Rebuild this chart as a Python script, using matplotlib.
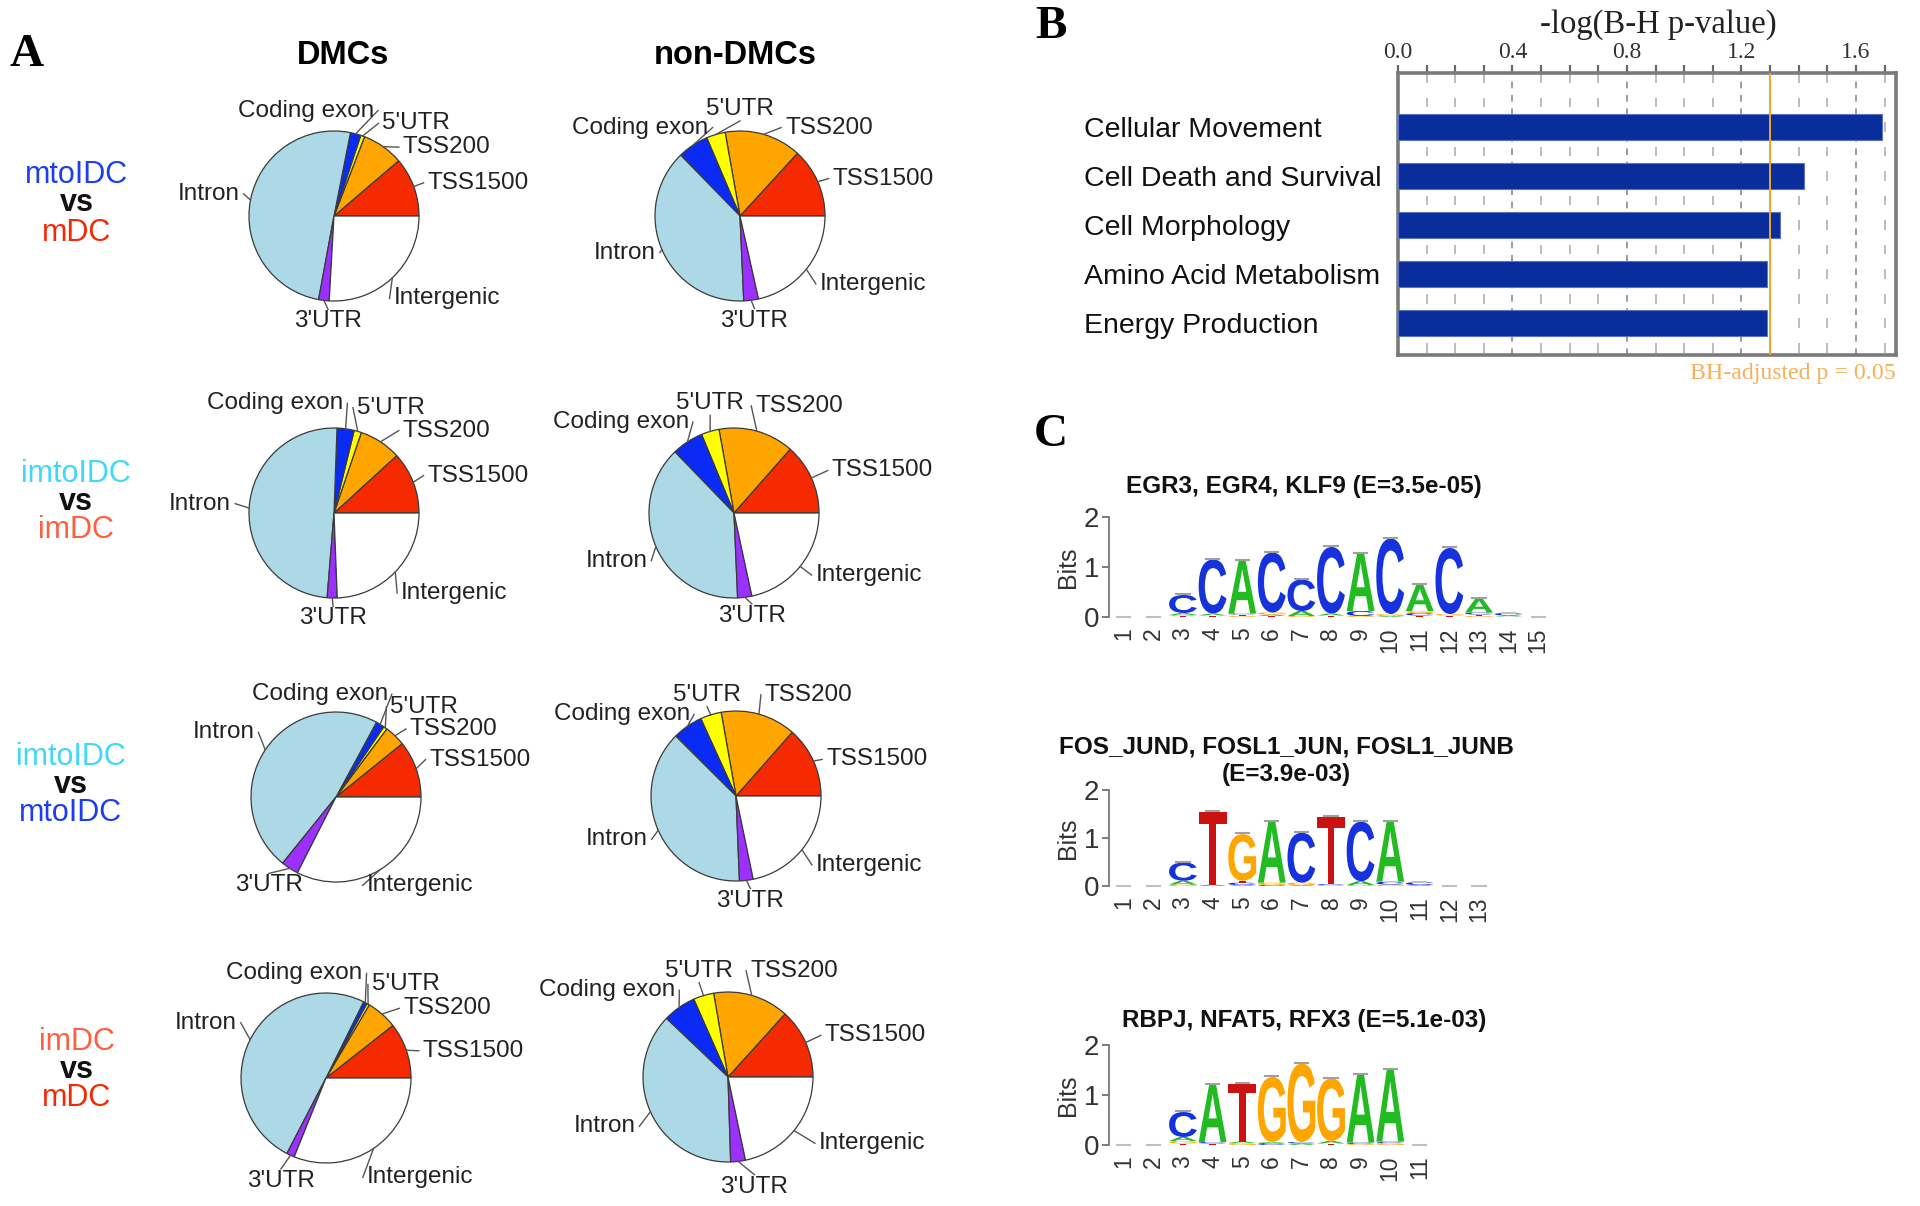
import numpy as np
import matplotlib
matplotlib.use("Agg")
import matplotlib.pyplot as plt
from matplotlib.font_manager import FontProperties
from matplotlib.textpath import TextPath
from matplotlib.patches import PathPatch
from matplotlib.transforms import Affine2D

# ---------------- data ----------------
segments = ["TSS1500", "TSS200", "5'UTR", "Coding exon", "Intron", "3'UTR", "Intergenic"]
seg_colors = ["#f52a00", "#ffa500", "#ffff00", "#0a2af5", "#add8e6", "#9b30ff", "#ffffff"]

row_first = ["mtoIDC", "imtoIDC", "imtoIDC", "imDC"]
row_second = ["mDC", "imDC", "mtoIDC", "mDC"]
row_first_colors = ["#1c3df0", "#40d8f8", "#40d8f8", "#ff5f3f"]
row_second_colors = ["#f52800", "#ff5f3f", "#1c3df0", "#f52800"]

# percent of CpGs per genomic feature (segment order above)
dmc_fractions = [
    [11.25, 7.9, 0.75, 2.0, 50.2, 2.0, 25.9],
    [11.8, 8.0, 1.4, 3.25, 49.3, 1.9, 24.4],
    [10.8, 4.0, 0.7, 1.6, 47.1, 3.3, 32.5],
    [10.6, 5.9, 0.5, 0.7, 49.7, 1.5, 31.1],
]
nondmc_fractions = [
    [13.2, 14.6, 3.6, 5.9, 38.4, 2.8, 21.5],
    [13.5, 14.3, 3.4, 6.0, 38.4, 2.7, 21.6],
    [13.5, 14.3, 4.0, 5.75, 38.1, 2.6, 21.75],
    [13.3, 14.4, 3.9, 6.3, 37.6, 2.8, 21.7],
]

categories = ["Cellular Movement", "Cell Death and Survival", "Cell Morphology",
              "Amino Acid Metabolism", "Energy Production"]
neg_log_p = [1.69, 1.42, 1.335, 1.29, 1.29]
threshold = -np.log10(0.05)

# each title is a list of lines
motif_titles = [["EGR3, EGR4, KLF9 (E=3.5e-05)"],
                ["FOS_JUND, FOSL1_JUN, FOSL1_JUNB", "(E=3.9e-03)"],
                ["RBPJ, NFAT5, RFX3 (E=5.1e-03)"]]
# per position: (letter, bits) stacked bottom to top
motif1 = [
    [], [],
    [("T", 0.02), ("G", 0.02), ("A", 0.04), ("C", 0.36)],
    [("T", 0.03), ("A", 0.04), ("C", 1.08)],
    [("G", 0.02), ("T", 0.03), ("C", 0.02), ("A", 1.05)],
    [("T", 0.02), ("A", 0.03), ("G", 0.04), ("C", 1.2)],
    [("G", 0.02), ("A", 0.1), ("C", 0.63)],
    [("T", 0.03), ("A", 0.04), ("C", 1.33)],
    [("G", 0.02), ("C", 0.1), ("A", 1.15)],
    [("A", 0.02), ("G", 0.04), ("C", 1.51)],
    [("T", 0.03), ("C", 0.05), ("G", 0.04), ("A", 0.52)],
    [("T", 0.03), ("G", 0.03), ("C", 1.32)],
    [("G", 0.02), ("T", 0.03), ("C", 0.04), ("A", 0.28)],
    [("T", 0.01), ("A", 0.02), ("C", 0.05)],
    [],
]
motif2 = [
    [], [],
    [("G", 0.03), ("A", 0.08), ("C", 0.38)],
    [("A", 0.03), ("T", 1.51)],
    [("A", 0.02), ("C", 0.05), ("T", 0.04), ("G", 0.97)],
    [("C", 0.02), ("G", 0.05), ("A", 1.27)],
    [("A", 0.02), ("G", 0.05), ("C", 1.04)],
    [("G", 0.02), ("C", 0.02), ("T", 1.4)],
    [("G", 0.02), ("A", 0.08), ("C", 1.24)],
    [("G", 0.03), ("C", 0.06), ("A", 1.25)],
    [("A", 0.02), ("C", 0.06)],
    [], [],
]
motif3 = [
    [], [],
    [("T", 0.03), ("G", 0.05), ("A", 0.08), ("C", 0.5)],
    [("T", 0.03), ("C", 0.03), ("A", 1.14)],
    [("G", 0.04), ("A", 0.03), ("T", 1.16)],
    [("C", 0.04), ("A", 0.02), ("G", 1.3)],
    [("A", 0.03), ("C", 0.03), ("G", 1.57)],
    [("T", 0.03), ("A", 0.05), ("G", 1.25)],
    [("G", 0.02), ("C", 0.03), ("A", 1.35)],
    [("G", 0.04), ("C", 0.03), ("A", 1.43)],
    [],
]
motifs = [motif1, motif2, motif3]
base_colors = {"A": "#22bb22", "C": "#1632dc", "G": "#ffa500", "T": "#cc1111"}

# ---------------- layout ----------------
W, H = 1920, 1206
R = 85
pie_centers = [[(334, 216), (740, 216)],
               [(334, 513), (734, 513)],
               [(336, 797), (736, 796)],
               [(326, 1078), (728, 1077)]]
# label anchors in pie-radius units (x right, y up), segment order
label_layout = [
    [[(1.10, 0.39, "left"), (0.81, 0.81, "left"), (0.57, 1.09, "left"), (0.47, 1.24, "right"),
      (-1.11, 0.26, "right"), (-0.07, -1.24, "center"), (0.70, -0.97, "left")],
     [(1.09, 0.44, "left"), (0.53, 1.04, "left"), (0.0, 1.26, "center"), (-0.37, 1.04, "right"),
      (-0.99, -0.43, "right"), (0.17, -1.23, "center"), (0.94, -0.80, "left")]],
    [[(1.10, 0.44, "left"), (0.81, 0.97, "left"), (0.27, 1.24, "left"), (0.11, 1.29, "right"),
      (-1.21, 0.11, "right"), (-0.01, -1.24, "center"), (0.79, -0.94, "left")],
     [(1.15, 0.50, "left"), (0.25, 1.26, "left"), (-0.28, 1.29, "center"), (-0.53, 1.07, "right"),
      (-1.02, -0.56, "right"), (0.21, -1.21, "center"), (0.96, -0.73, "left")]],
    [[(1.10, 0.44, "left"), (0.87, 0.80, "left"), (0.64, 1.06, "left"), (0.61, 1.21, "right"),
      (-0.96, 0.76, "right"), (-0.79, -1.04, "center"), (0.36, -1.04, "left")],
     [(1.06, 0.43, "left"), (0.34, 1.19, "left"), (-0.34, 1.19, "center"), (-0.54, 0.96, "right"),
      (-1.04, -0.51, "right"), (0.17, -1.23, "center"), (0.94, -0.81, "left")]],
    [[(1.14, 0.32, "left"), (0.91, 0.82, "left"), (0.54, 1.10, "left"), (0.43, 1.23, "right"),
      (-1.05, 0.65, "right"), (-0.53, -1.21, "center"), (0.48, -1.17, "left")],
     [(1.14, 0.49, "left"), (0.26, 1.25, "left"), (-0.34, 1.25, "center"), (-0.62, 1.02, "right"),
      (-1.09, -0.58, "right"), (0.31, -1.29, "center"), (1.07, -0.78, "left")]],
]
row_label_y = [(175, 203, 233), (474, 502, 530), (757, 785, 813), (1042, 1070, 1098)]
row_label_x = [77, 76, 71, 77]

SANS = "Liberation Sans"
SERIF = "Liberation Serif"


def Y(y):
    return H - y


fig = plt.figure(figsize=(W / 100, H / 100), dpi=100)
ov = fig.add_axes([0, 0, 1, 1])

# ---------------- panel A ----------------
for row in range(4):
    for col, fr in enumerate([dmc_fractions[row], nondmc_fractions[row]]):
        cx, cy = pie_centers[row][col]
        ov.pie(fr, colors=seg_colors, startangle=0, counterclock=True, radius=R,
               center=(cx, Y(cy)), wedgeprops=dict(edgecolor="#3a3a3a", linewidth=0.9))
        cum = np.concatenate([[0], np.cumsum(fr)]) / sum(fr) * 360
        for k, lab in enumerate(segments):
            m = np.deg2rad((cum[k] + cum[k + 1]) / 2)
            lx, ly, ha = label_layout[row][col][k]
            tx, ty = cx + lx * R, Y(cy) + ly * R
            # leader line end point near the text anchor
            if ha == "left":
                ex, ey = tx - 4, ty
            elif ha == "right":
                ex, ey = tx + 4, ty
            else:
                ex, ey = tx, ty + (12 if ly < 0 else -12)
            sx, sy = cx + R * np.cos(m), Y(cy) + R * np.sin(m)
            ov.plot([sx, ex], [sy, ey], color="#555555", lw=1.0)
            ov.text(tx, ty, lab, ha=ha, va="center", fontsize=17.5, family=SANS, color="#222222")

for row in range(4):
    x = row_label_x[row]
    y1, y2, y3 = row_label_y[row]
    ov.text(x, Y(y1), row_first[row], ha="center", va="center", fontsize=22,
            family=SANS, color=row_first_colors[row])
    ov.text(x, Y(y2), "vs", ha="center", va="center", fontsize=22, family=SANS,
            fontweight="bold", color="#111111")
    ov.text(x, Y(y3), row_second[row], ha="center", va="center", fontsize=22,
            family=SANS, color=row_second_colors[row])

ov.text(343, Y(55), "DMCs", ha="center", va="center", fontsize=23.5, family=SANS, fontweight="bold")
ov.text(735, Y(55), "non-DMCs", ha="center", va="center", fontsize=23.5, family=SANS, fontweight="bold")

ov.text(27, Y(55), "A", ha="center", va="center", fontsize=34, family=SERIF, fontweight="bold")
ov.text(1051, Y(27), "B", ha="center", va="center", fontsize=34, family=SERIF, fontweight="bold")
ov.text(1051, Y(435), "C", ha="center", va="center", fontsize=34, family=SERIF, fontweight="bold")

ov.set_xlim(0, W)
ov.set_ylim(0, H)
ov.set_aspect("auto")
ov.set_axis_off()

# ---------------- panel B ----------------
bl, br, bt, bb = 1398, 1896, 73, 355
axb = fig.add_axes([bl / W, (H - bb) / H, (br - bl) / W, (bb - bt) / H])
ypos = np.arange(len(categories))
axb.barh(ypos, neg_log_p, height=0.52, color="#0a2d9c", edgecolor="#5a72c8",
         linewidth=0.8, zorder=3)
axb.set_xlim(0, 1.74)
axb.set_ylim(len(categories) - 1 + 0.65, -1.1)
dash_y = np.arange(-1.0, len(categories) - 1 + 0.6, 0.5)
for v in np.arange(0.1, 1.75, 0.1):
    if round(v * 10) % 4 == 0:
        axb.axvline(v, color="#8a8a8a", lw=1.2, ls=(0, (4, 4)), zorder=1)
    else:
        axb.vlines([v] * len(dash_y), dash_y - 0.1, dash_y + 0.1, color="#b0b0b0",
                   lw=1.2, zorder=1)
axb.axvline(threshold, color="#f5a623", lw=1.4, zorder=4)
axb.xaxis.tick_top()
axb.set_xticks([0.0, 0.4, 0.8, 1.2, 1.6])
axb.set_xticklabels(["0.0", "0.4", "0.8", "1.2", "1.6"], family=SERIF, fontsize=17, color="#333333")
axb.set_xticks(np.arange(0, 1.75, 0.1), minor=True)
axb.tick_params(axis="x", which="both", top=True, bottom=False, direction="out",
                length=6, width=1.6, color="#666666", pad=1.5)
axb.set_yticks(ypos)
axb.set_yticklabels(categories, family=SANS, fontsize=20.5, color="#111111")
axb.tick_params(axis="y", length=0, pad=226)
for t in axb.get_yticklabels():
    t.set_ha("left")
for s in axb.spines.values():
    s.set_color("#7a7a7a")
    s.set_linewidth(2.6)

ov.text(1658, Y(25), "-log(B-H p-value)", ha="center", va="center", fontsize=23.5,
        family=SERIF, color="#222222")
ov.text(1896, Y(373), "BH-adjusted p = 0.05", ha="right", va="center", fontsize=17.2,
        family=SERIF, color="#f7b05a")

# ---------------- panel C ----------------
fp = FontProperties(family=SANS, weight="bold")


def letter_patch(ch, x, y, w, h, color):
    tp = TextPath((0, 0), ch, size=1, prop=fp)
    bbx = tp.get_extents()
    tr = Affine2D().translate(-bbx.x0, -bbx.y0).scale(w / bbx.width, h / bbx.height).translate(x, y)
    return PathPatch(tr.transform_path(tp), facecolor=color, edgecolor="none")


logo_y0 = [617, 886, 1145]
logo_y2 = [517, 790, 1045]
logo_left = 1109
step = 29.6
title_x = [1304, 1286, 1304]
title_y = [[487], [747, 775], [1020]]
ylo, yhi = -0.1, 2.1

for j, motif in enumerate(motifs):
    n = len(motif)
    scale = (logo_y0[j] - logo_y2[j]) / 2.0
    top_px = logo_y2[j] - (yhi - 2) * scale
    bot_px = logo_y0[j] + (0 - ylo) * scale
    ax = fig.add_axes([logo_left / W, (H - bot_px) / H, n * step / W, (bot_px - top_px) / H])
    for i, stack in enumerate(motif, start=1):
        y0 = 0.0
        for ch, h in stack:
            ax.add_patch(letter_patch(ch, i - 0.47, y0, 0.94, h, base_colors[ch]))
            y0 += h
        if y0 > 0.15:
            ax.plot([i - 0.22, i + 0.22], [y0 + 0.02, y0 + 0.02], color="#a0a0a0", lw=1.5)
        else:
            ax.plot([i - 0.22, i + 0.22], [y0 + 0.01, y0 + 0.01], color="#c0c0c0", lw=1.5)
    ax.set_xlim(0.5, n + 0.5)
    ax.set_ylim(ylo, yhi)
    ax.set_yticks([0, 1, 2])
    ax.set_yticklabels(["0", "1", "2"], family=SANS, fontsize=20, color="#333333")
    ax.tick_params(axis="y", length=5, width=1.2, color="#666666", pad=2)
    ax.set_xticks(np.arange(1, n + 1))
    ax.set_xticklabels([str(i) for i in range(1, n + 1)], rotation=90, family=SANS,
                       fontsize=16.5, color="#333333")
    ax.tick_params(axis="x", length=0, pad=4)
    for side in ["top", "right", "bottom"]:
        ax.spines[side].set_visible(False)
    ax.spines["left"].set_bounds(0, 2)
    ax.spines["left"].set_color("#777777")
    ax.spines["left"].set_linewidth(1.3)
    ax.set_ylabel("Bits", family=SANS, fontsize=18, color="#333333", labelpad=3)
    ax.patch.set_alpha(0)
    for line, ty in zip(motif_titles[j], title_y[j]):
        ov.text(title_x[j], Y(ty), line, ha="center", va="center", fontsize=17.5,
                family=SANS, fontweight="bold", color="#111111")

fig.savefig("out.png", dpi=100)
